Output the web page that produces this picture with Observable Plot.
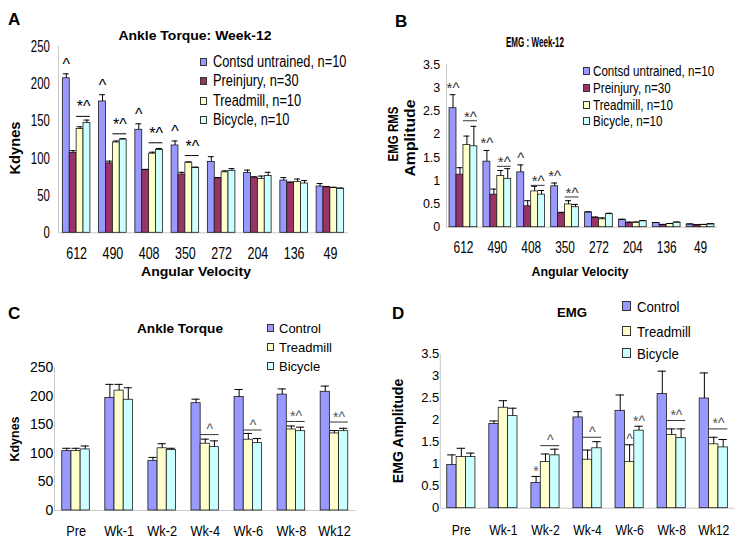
<!DOCTYPE html>
<html>
<head>
<meta charset="utf-8">
<script src="https://cdn.jsdelivr.net/npm/d3@7"></script>
<script src="https://cdn.jsdelivr.net/npm/@observablehq/plot@0.6"></script>
<style>
  body { margin: 0; background: #fff; }
  #root { position: relative; width: 738px; height: 540px; overflow: hidden; background: #fff; }
  #root svg { position: absolute; }
  .t { position: absolute; white-space: nowrap; color: #000; line-height: 1; font-family: 'Liberation Sans', Arial, sans-serif; z-index: 3; }
  .sq { position: absolute; box-sizing: border-box; border: 1px solid #333; z-index: 3; }
</style>
</head>
<body>
<div id="root"></div>
<script>
// ---------- data ----------
const velocities = ["612", "490", "408", "350", "272", "204", "136", "49"];
const groupsWeek12 = ["Contsd untrained, n=10", "Preinjury, n=30", "Treadmill, n=10", "Bicycle, n=10"];
const colorsWeek12 = ["#9999ff", "#993366", "#ffffcc", "#ccffff"];

// Panel A: Ankle torque at week 12 (Kdynes), bar heights and upper error bar ends
const torqueControl    = [207, 176, 138, 117, 95, 80, 70, 62];
const torqueControlErr = [213, 185, 146, 123, 102, 84, 74, 66];
const torquePre        = [107, 93, 84, 78, 73, 74, 67, 61];
const torquePreErr     = [110, 96, 85, 81, 74, 75, 68, 62];
const torqueTread      = [139, 121, 106, 94, 81, 72, 68, 60];
const torqueTreadErr   = [142, 123, 108, 95, 83, 76, 72, 61];
const torqueBic        = [147, 125, 111, 87, 83, 76, 66, 59];
const torqueBicErr     = [151, 126, 113, 88, 86, 81, 70, 60];

// Panel B: EMG RMS amplitude at week 12
const emgControl    = [2.56, 1.41, 1.18, 0.88, 0.32, 0.16, 0.09, 0.06];
const emgControlErr = [2.85, 1.65, 1.34, 0.95, 0.33, 0.17, 0.10, 0.07];
const emgPre        = [1.13, 0.70, 0.45, 0.30, 0.20, 0.09, 0.05, 0.05];
const emgPreErr     = [1.28, 0.82, 0.57, 0.32, 0.22, 0.11, 0.06, 0.05];
const emgTread      = [1.77, 1.10, 0.77, 0.49, 0.17, 0.10, 0.07, 0.05];
const emgTreadErr   = [1.96, 1.22, 0.88, 0.57, 0.20, 0.11, 0.08, 0.06];
const emgBic        = [1.74, 1.04, 0.70, 0.43, 0.28, 0.13, 0.10, 0.07];
const emgBicErr     = [2.17, 1.26, 0.79, 0.49, 0.30, 0.14, 0.11, 0.07];

const weeks = ["Pre", "Wk-1", "Wk-2", "Wk-4", "Wk-6", "Wk-8", "Wk12"];
const groupsTime = ["Control", "Treadmill", "Bicycle"];
const colorsTime = ["#9999ff", "#ffffcc", "#ccffff"];

// Panel C: Ankle torque over time
const tControl    = [104, 197, 87, 188, 199, 203, 208];
const tControlErr = [109, 221, 93, 195, 212, 213, 218];
const tTread      = [104, 210, 109, 117, 124, 142, 135];
const tTreadErr   = [109, 221, 117, 125, 135, 148, 140];
const tBic        = [107, 194, 106, 111, 118, 139, 139];
const tBicErr     = [113, 215, 109, 122, 126, 146, 144];

// Panel D: EMG amplitude over time
const eControl    = [0.98, 1.91, 0.57, 2.06, 2.21, 2.59, 2.49];
const eControlErr = [1.21, 1.98, 0.72, 2.19, 2.57, 3.11, 3.07];
const eTread      = [1.16, 2.28, 1.05, 1.10, 1.05, 1.66, 1.45];
const eTreadErr   = [1.36, 2.44, 1.23, 1.32, 1.44, 1.80, 1.61];
const eBic        = [1.16, 2.09, 1.20, 1.36, 1.76, 1.59, 1.38];
const eBicErr     = [1.25, 2.27, 1.34, 1.51, 1.86, 1.80, 1.56];

// significance marks: over one bar (k = series index) or over the Treadmill/Bicycle pair (level = line value)
const notesA_bar  = [{cat: "612", k: 0, label: "^"}, {cat: "490", k: 0, label: "^"}, {cat: "408", k: 0, label: "^"}, {cat: "350", k: 0, label: "^"}];
const notesA_pair = [{cat: "612", level: 156, label: "*^"}, {cat: "490", level: 132.6, label: "*^"}, {cat: "408", level: 120.6, label: "*^"}, {cat: "350", level: 103.5, label: "*^"}];
const notesB_bar  = [{cat: "612", k: 0, label: "*^"}, {cat: "490", k: 0, label: "*^"}, {cat: "408", k: 0, label: "^"}, {cat: "350", k: 0, label: "*^"}];
const notesB_pair = [{cat: "612", level: 2.29, label: "*^"}, {cat: "490", level: 1.31, label: "*^"}, {cat: "408", level: 0.90, label: "*^"}, {cat: "350", level: 0.65, label: "*^"}];
const notesC_bar  = [];
const notesC_pair = [{cat: "Wk-4", level: 133, label: "^"}, {cat: "Wk-6", level: 141, label: "^"}, {cat: "Wk-8", level: 156, label: "*^"}, {cat: "Wk12", level: 155, label: "*^"}];
const notesD_bar  = [{cat: "Wk-2", k: 0, label: "*"}, {cat: "Wk-6", k: 1, label: "^"}, {cat: "Wk-6", k: 2, label: "*^"}];
const notesD_pair = [{cat: "Wk-2", level: 1.42, label: "^"}, {cat: "Wk-4", level: 1.61, label: "^"}, {cat: "Wk-8", level: 1.99, label: "*^"}, {cat: "Wk12", level: 1.80, label: "*^"}];

const titleA = "Ankle Torque: Week-12", titleB = "EMG : Week-12", titleC = "Ankle Torque", titleD = "EMG";
const xTitle = "Angular Velocity";

// ---------- helpers ----------
const FONT = "'Liberation Sans', Arial, sans-serif";
const root = document.getElementById("root");
const ctx = document.createElement("canvas").getContext("2d");

function measure(s, size, bold, ls = 0) {
  ctx.font = `${bold ? "bold " : ""}${size}px 'Liberation Sans', Arial, sans-serif`;
  return ctx.measureText(s).width + ls * s.length;
}

// place HTML text: anchor "middle" (x,y = center) or "start" (x = left, y = center); len = target length
function label(s, {x, y, size = 14, bold = false, len = null, anchor = "middle", rotate = false, ls = 0, color = "#000"}) {
  const d = document.createElement("div");
  d.className = "t";
  d.textContent = s;
  d.style.fontSize = size + "px";
  d.style.fontWeight = bold ? "bold" : "normal";
  d.style.letterSpacing = ls + "px";
  d.style.color = color;
  const nat = measure(s, size, bold, ls);
  const sc = len ? len / nat : 1;
  d.style.left = x + "px";
  d.style.top = y + "px";
  if (anchor === "start") {
    d.style.transformOrigin = "0 50%";
    d.style.transform = `translateY(-50%) scaleX(${sc})`;
  } else {
    d.style.transformOrigin = "50% 50%";
    d.style.transform = `translate(-50%,-50%) ${rotate ? "rotate(-90deg) " : ""}scaleX(${sc})`;
  }
  root.appendChild(d);
}

function legend(items, colors, {sx, tx, ys, size, scale = 1, sw = 7, sh = 8}) {
  items.forEach((s, i) => {
    const q = document.createElement("div");
    q.className = "sq";
    q.style.left = sx + "px";
    q.style.top = (ys[i] - sh / 2) + "px";
    q.style.width = sw + "px";
    q.style.height = sh + "px";
    q.style.background = colors[i];
    root.appendChild(q);
    label(s, {x: tx, y: ys[i], size, anchor: "start", len: measure(s, size, false) * scale});
  });
}

function panel(p) {
  const n = p.cats.length, ns = p.series.length;
  const fw = p.w - p.ml - p.mr;
  const step = fw / n;
  const gap = step * p.pad;
  const xbw = (step - gap) / ns;
  const rows = [];
  p.cats.forEach((c, i) => p.series.forEach((s, j) => rows.push({cat: c, s, v: p.vals[j][i], e: p.errs[j][i]})));
  const find = (c, s) => rows.find(r => r.cat === c && r.s === s);
  const tread = p.series[ns - 2], bic = p.series[ns - 1];
  const pairLines = p.pairNotes.flatMap(d => [tread, bic].map(s => ({cat: d.cat, s, lv: d.level})));
  const barNotes = p.barNotes.map(d => ({cat: d.cat, label: d.label, s: p.series[d.k], y: find(d.cat, p.series[d.k]).e}));

  const svg = Plot.plot({
    width: p.w, height: p.h,
    marginLeft: p.ml, marginRight: p.mr, marginTop: p.mt, marginBottom: p.mb,
    style: {background: "transparent", fontFamily: FONT, overflow: "visible"},
    fx: {domain: p.cats, paddingInner: p.pad, paddingOuter: p.pad / 2, axis: "bottom", label: null, tickSize: 0, tickPadding: p.fxPad, round: false},
    x: {domain: p.series, axis: null, padding: 0, round: false},
    y: {domain: p.yDomain, ticks: p.yTicks, tickFormat: d => String(d), tickSize: 0, tickPadding: p.yPad, label: null},
    color: {domain: p.series, range: p.colors},
    marks: [
      Plot.ruleY([0], {stroke: "#c8c8c8", insetLeft: -gap / 2, insetRight: -gap / 2}),
      Plot.ruleX([p.cats[0]], {fx: d => d, x: () => p.series[0], y1: () => p.yDomain[0], y2: () => p.yDomain[1], dx: -(xbw / 2 + gap / 2), stroke: "#c8c8c8"}),
      Plot.barY(rows, {fx: "cat", x: "s", y: "v", fill: "s", stroke: "#1a1a1a", strokeWidth: 0.8}),
      Plot.ruleX(rows, {fx: "cat", x: "s", y1: "v", y2: "e", stroke: "#000"}),
      Plot.tickY(rows, {fx: "cat", x: "s", y: "e", stroke: "#000", insetLeft: 0.5, insetRight: 0.5}),
      Plot.tickY(pairLines, {fx: "cat", x: "s", y: "lv", stroke: p.lineColor}),
      Plot.text(p.pairNotes, {fx: "cat", x: () => tread, y: "level", text: "label", dx: xbw / 2, dy: p.pairDy, fontSize: p.noteSize, fill: p.noteColor, fontFamily: FONT}),
      Plot.text(barNotes, {fx: "cat", x: "s", y: "y", text: "label", dy: p.barDy, fontSize: p.noteSize, fill: p.noteColor, fontFamily: FONT})
    ]
  });
  svg.style.left = p.left + "px";
  svg.style.top = p.top + "px";
  root.appendChild(svg);
  const fit = (t, size, f) => {
    t.setAttribute("font-size", size);
    t.style.fontSize = size + "px";
    t.setAttribute("fill", "#000");
    if (f !== 1) {
      const w = t.getComputedTextLength();
      t.setAttribute("textLength", w * f);
      t.setAttribute("lengthAdjust", "spacingAndGlyphs");
    }
  };
  svg.querySelectorAll('[aria-label^="y-axis"] text').forEach(t => fit(t, p.ySize, p.yScale));
  svg.querySelectorAll('[aria-label^="fx-axis"] text').forEach(t => fit(t, p.fxSize, p.fxScale));
}

// ---------- panels ----------
panel({left: 0, top: 0, w: 369, h: 270, ml: 58, mr: 21, mt: 45.7, mb: 37.7, pad: 0.24,
  cats: velocities, series: groupsWeek12, colors: colorsWeek12,
  vals: [torqueControl, torquePre, torqueTread, torqueBic], errs: [torqueControlErr, torquePreErr, torqueTreadErr, torqueBicErr],
  yDomain: [0, 250], yTicks: [0, 50, 100, 150, 200, 250], yPad: 13, ySize: 17, yScale: 0.67,
  fxPad: 15.3, fxSize: 16, fxScale: 0.78,
  barNotes: notesA_bar, pairNotes: notesA_pair, barDy: -9, pairDy: -9, noteSize: 16, noteColor: "#000", lineColor: "#000"});

panel({left: 369, top: 0, w: 369, h: 270, ml: 77, mr: 21, mt: 64, mb: 43.3, pad: 0.18,
  cats: velocities, series: groupsWeek12, colors: colorsWeek12,
  vals: [emgControl, emgPre, emgTread, emgBic], errs: [emgControlErr, emgPreErr, emgTreadErr, emgBicErr],
  yDomain: [0, 3.5], yTicks: [0, 0.5, 1, 1.5, 2, 2.5, 3, 3.5], yPad: 9.3, ySize: 13, yScale: 0.96,
  fxPad: 13.3, fxSize: 17, fxScale: 0.7,
  barNotes: notesB_bar, pairNotes: notesB_pair, barDy: -7, pairDy: -4, noteSize: 15, noteColor: "#333", lineColor: "#333"});

panel({left: 0, top: 270, w: 369, h: 270, ml: 54, mr: 13.5, mt: 97.3, mb: 30, pad: 0.36,
  cats: weeks, series: groupsTime, colors: colorsTime,
  vals: [tControl, tTread, tBic], errs: [tControlErr, tTreadErr, tBicErr],
  yDomain: [0, 250], yTicks: [0, 50, 100, 150, 200, 250], yPad: 9, ySize: 14, yScale: 1,
  fxPad: 14.7, fxSize: 15, fxScale: 0.85,
  barNotes: notesC_bar, pairNotes: notesC_pair, barDy: -5, pairDy: -5, noteSize: 14, noteColor: "#555", lineColor: "#333"});

panel({left: 369, top: 270, w: 369, h: 270, ml: 70.8, mr: 3.7, mt: 83.5, mb: 32.3, pad: 0.33,
  cats: weeks, series: groupsTime, colors: colorsTime,
  vals: [eControl, eTread, eBic], errs: [eControlErr, eTreadErr, eBicErr],
  yDomain: [0, 3.5], yTicks: [0, 0.5, 1, 1.5, 2, 2.5, 3, 3.5], yPad: 8, ySize: 13, yScale: 1,
  fxPad: 17.3, fxSize: 14, fxScale: 0.87,
  barNotes: notesD_bar, pairNotes: notesD_pair, barDy: -5, pairDy: -5, noteSize: 14, noteColor: "#555", lineColor: "#333"});

// ---------- titles, axis titles, legends ----------
label("A", {x: 8, y: 19, size: 17, bold: true, anchor: "start"});
label(titleA, {x: 195, y: 36, size: 12.5, bold: true, len: 153});
label("Kdynes", {x: 15.3, y: 148, size: 14.5, bold: true, len: 53, rotate: true});
label(xTitle, {x: 196, y: 271, size: 13, bold: true, len: 110});
legend(groupsWeek12, colorsWeek12, {sx: 200, tx: 213, ys: [62, 81, 100.5, 119.5], size: 16, scale: 0.8});

label("B", {x: 395, y: 21, size: 17, bold: true, anchor: "start"});
label(titleB, {x: 534.7, y: 42, size: 14, bold: true, len: 58});
label("EMG RMS", {x: 391.7, y: 134, size: 15, bold: true, len: 55, rotate: true});
label("Amplitude", {x: 410, y: 138, size: 14.5, bold: true, len: 77, rotate: true});
label(xTitle, {x: 580, y: 271, size: 13, bold: true, len: 97});
legend(groupsWeek12, colorsWeek12, {sx: 583, tx: 593, ys: [71, 87.8, 104.5, 121], size: 15.5, scale: 0.75});

label("C", {x: 8, y: 313, size: 17, bold: true, anchor: "start"});
label(titleC, {x: 179.7, y: 329, size: 12.5, bold: true, len: 86});
label("Kdynes", {x: 15.3, y: 439, size: 13.5, bold: true, len: 45, rotate: true});
legend(groupsTime, colorsTime, {sx: 267, tx: 279, ys: [328, 346.7, 366], size: 13, scale: 1});

label("D", {x: 392, y: 313, size: 17, bold: true, anchor: "start"});
label(titleD, {x: 571.7, y: 313, size: 13.5, bold: true, len: 30});
label("EMG Amplitude", {x: 398, y: 430.5, size: 14, bold: true, len: 105, rotate: true});
legend(groupsTime, colorsTime, {sx: 622, tx: 636.7, ys: [306, 331, 352.5], size: 15, scale: 0.88, sw: 9, sh: 10});
</script>
</body>
</html>
